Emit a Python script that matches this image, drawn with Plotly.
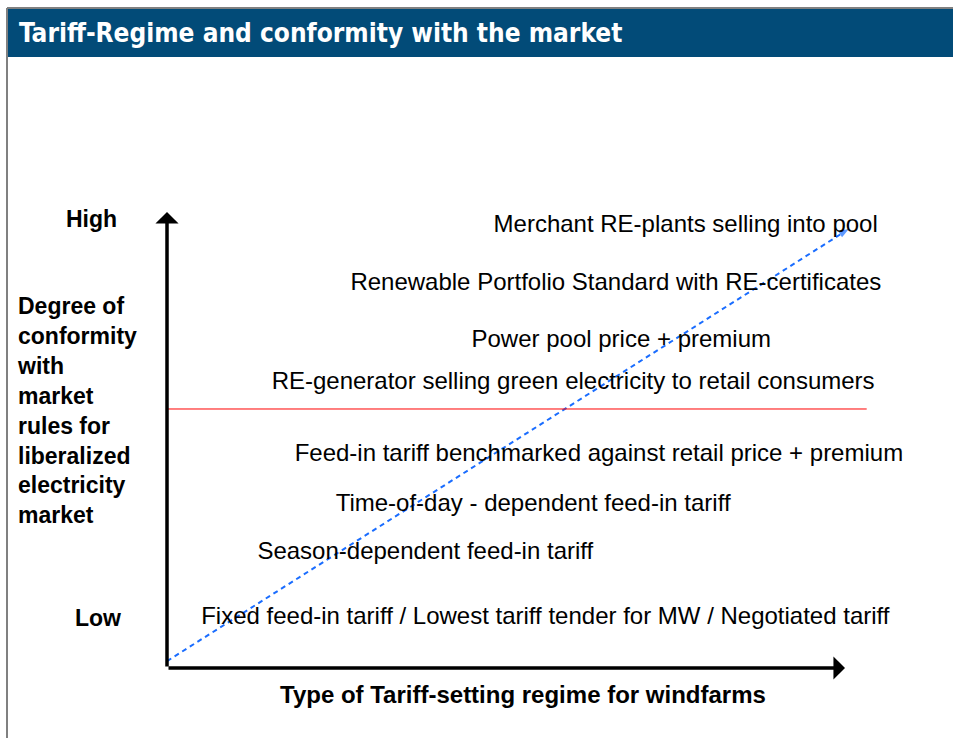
import plotly.graph_objects as go

# ---- data ----
regimes = [
    "Fixed feed-in tariff / Lowest tariff tender for MW / Negotiated tariff",
    "Season-dependent feed-in tariff",
    "Time-of-day - dependent feed-in tariff",
    "Feed-in tariff benchmarked against retail price + premium",
    "RE-generator selling green electricity to retail consumers",
    "Power pool price + premium",
    "Renewable Portfolio Standard with RE-certificates",
    "Merchant RE-plants selling into pool",
]
conformity = [1.10, 2.53, 3.58, 4.68, 6.26, 7.18, 8.43, 9.70]
label_x = [5.58, 3.81, 5.40, 6.37, 5.99, 6.70, 6.62, 7.65]

market_threshold = 5.68
trend_x = [0.0, 10.06]
trend_y = [0.15, 9.63]
axis_max = 10.0

# ---- figure ----
W, H = 953, 738
BLUE_BAR = "#024B78"
fig = go.Figure()

# dashed trend line with arrow
fig.add_trace(go.Scatter(
    x=trend_x, y=trend_y, mode="lines+markers",
    line=dict(color="#1A6DFF", width=2, dash="5px,4px"),
    marker=dict(symbol=["circle", "arrow"], size=[0, 11], angleref="previous",
                color="#1A6DFF", line=dict(width=0)),
    hoverinfo="skip", showlegend=False,
))

# threshold line
fig.add_trace(go.Scatter(
    x=[0.0, 10.32], y=[market_threshold, market_threshold], mode="lines",
    line=dict(color="#FF0000", width=1), hoverinfo="skip", showlegend=False,
))

# regime labels
fig.add_trace(go.Scatter(
    x=label_x, y=conformity, mode="text", text=regimes,
    textposition="middle center",
    textfont=dict(family="Liberation Sans, Arial, sans-serif", size=24, color="#000000"),
    hoverinfo="skip", showlegend=False,
))

# axes arrows
for tip in [(0, axis_max), (axis_max, 0)]:
    fig.add_annotation(
        x=tip[0], y=tip[1], ax=0, ay=0, xref="x", yref="y", axref="x", ayref="y",
        showarrow=True, arrowhead=1, arrowsize=1.1, arrowwidth=3.5, arrowcolor="#000000", text="",
    )

bold = dict(family="Liberation Sans, Arial, sans-serif", size=23, color="#000000")
fig.add_annotation(x=-1.12, y=9.85, text="<b>High</b>", showarrow=False, font=bold)
fig.add_annotation(x=-1.02, y=1.10, text="<b>Low</b>", showarrow=False, font=bold)
fig.add_annotation(
    x=-2.245, y=5.64, xanchor="left", yanchor="middle", align="left", showarrow=False,
    text="<b>Degree of<br>conformity<br>with<br>market<br>rules for<br>liberalized<br>electricity<br>market</b>",
    font=dict(family="Liberation Sans, Arial, sans-serif", size=23, color="#000000"),
)
fig.add_annotation(
    x=5.25, y=-0.59, showarrow=False,
    text="<b>Type of Tariff-setting regime for windfarms</b>",
    font=dict(family="Liberation Sans, Arial, sans-serif", size=24, color="#000000"),
)

# frame and title bar
fig.add_shape(type="rect", xref="paper", yref="paper",
              x0=8 / W, x1=1, y0=1 - 57 / H, y1=1 - 8 / H,
              fillcolor=BLUE_BAR, line=dict(width=0), layer="below")
fig.add_shape(type="line", xref="paper", yref="paper",
              x0=7 / W, x1=1, y0=1 - 8 / H, y1=1 - 8 / H,
              line=dict(color="#808080", width=2))
fig.add_shape(type="line", xref="paper", yref="paper",
              x0=7 / W, x1=7 / W, y0=0, y1=1 - 8 / H,
              line=dict(color="#808080", width=2))
fig.add_annotation(
    x=17 / W, y=1 - 33 / H, xref="paper", yref="paper", xanchor="left", yanchor="middle",
    showarrow=False, text="<b>Tariff-Regime and conformity with the market</b>",
    font=dict(family="Liberation Sans Narrow, DejaVu Sans Condensed, Arial Narrow, sans-serif",
              size=26, color="#FFFFFF"),
)

px_x = 67.8
px_y = 45.6
fig.update_layout(
    width=W, height=H, margin=dict(l=0, r=0, t=0, b=0),
    paper_bgcolor="#FFFFFF", plot_bgcolor="#FFFFFF",
    xaxis=dict(range=[-167 / px_x, (W - 167) / px_x], visible=False, fixedrange=True),
    yaxis=dict(range=[-(H - 668) / px_y, 668 / px_y], visible=False, fixedrange=True),
    showlegend=False,
)

fig.write_html(
    "out.html",
    config={"displayModeBar": False},
    post_script="document.body.style.margin='0';document.body.style.overflow='hidden';",
)
